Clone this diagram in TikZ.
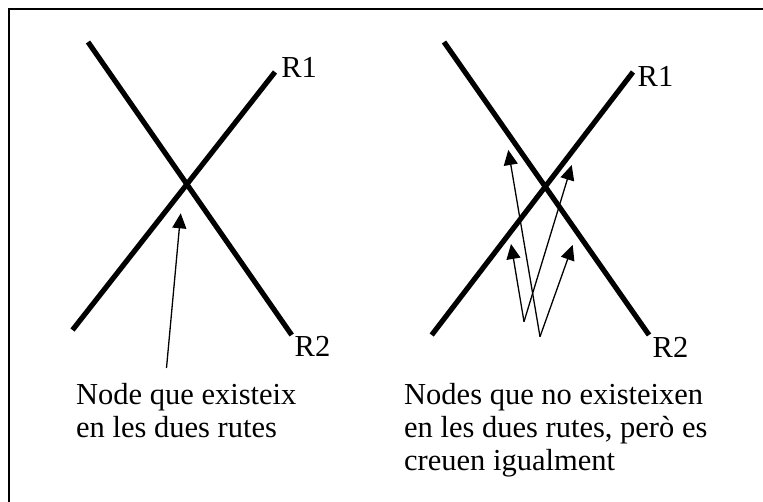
\documentclass[tikz,border=0pt]{standalone}
\usepackage{fontspec}
\setmainfont{Liberation Serif}
\usetikzlibrary{arrows.meta}
\begin{document}
\begin{tikzpicture}[x=1pt,y=-1pt,
  route/.style={line width=5.2pt},
  ptr/.style={line width=1.3pt,-{Triangle[length=15pt,width=14pt]}},
  lbl/.style={inner sep=0pt, font=\fontsize{30.5}{33}\selectfont, anchor=base west},
  caption/.style={lbl, align=left}]
\useasboundingbox (0,0) rectangle (763,502);
\draw[line width=1.5pt] (9,502) -- (9,9) -- (763,9);
% left diagram
\coordinate (a1s) at (72.5,330);
\coordinate (a1e) at (275,72);
\coordinate (a2s) at (88,42);
\coordinate (a2e) at (291.7,335);
\draw[route] (a1s) -- (a1e);
\draw[route] (a2s) -- (a2e);
\node[lbl] (aR1) at (281.2,77.3) {R1};
\node[lbl] (aR2) at (294.5,356.7) {R2};
\coordinate (aq) at (166.5,368);
\coordinate (ax) at (180.7,213.3);
\draw[ptr] (aq) -- (ax);
\node[caption] (atext) at (76,437.5) {Node que existeix\\en les dues rutes};
% right diagram
\coordinate (b1s) at (431.7,335);
\coordinate (b1e) at (633,72);
\coordinate (b2s) at (444,42);
\coordinate (b2e) at (649,335);
\draw[route] (b1s) -- (b1e);
\draw[route] (b2s) -- (b2e);
\node[lbl] (bR1) at (637.5,86.7) {R1};
\node[lbl] (bR2) at (652.5,358) {R2};
\coordinate (v1) at (524,321.7);
\coordinate (v2) at (540,336.7);
\coordinate (t1) at (508.3,150);
\coordinate (t2) at (572.7,245);
\coordinate (t3) at (511,244);
\coordinate (t4) at (571.7,165);
\draw[ptr] (v2) -- (t1);
\draw[ptr] (v2) -- (t2);
\draw[ptr] (v1) -- (t3);
\draw[ptr] (v1) -- (t4);
\node[caption] (btext) at (404,470.5) {Nodes que no existeixen\\en les dues rutes, però es\\creuen igualment};
\end{tikzpicture}
\end{document}
